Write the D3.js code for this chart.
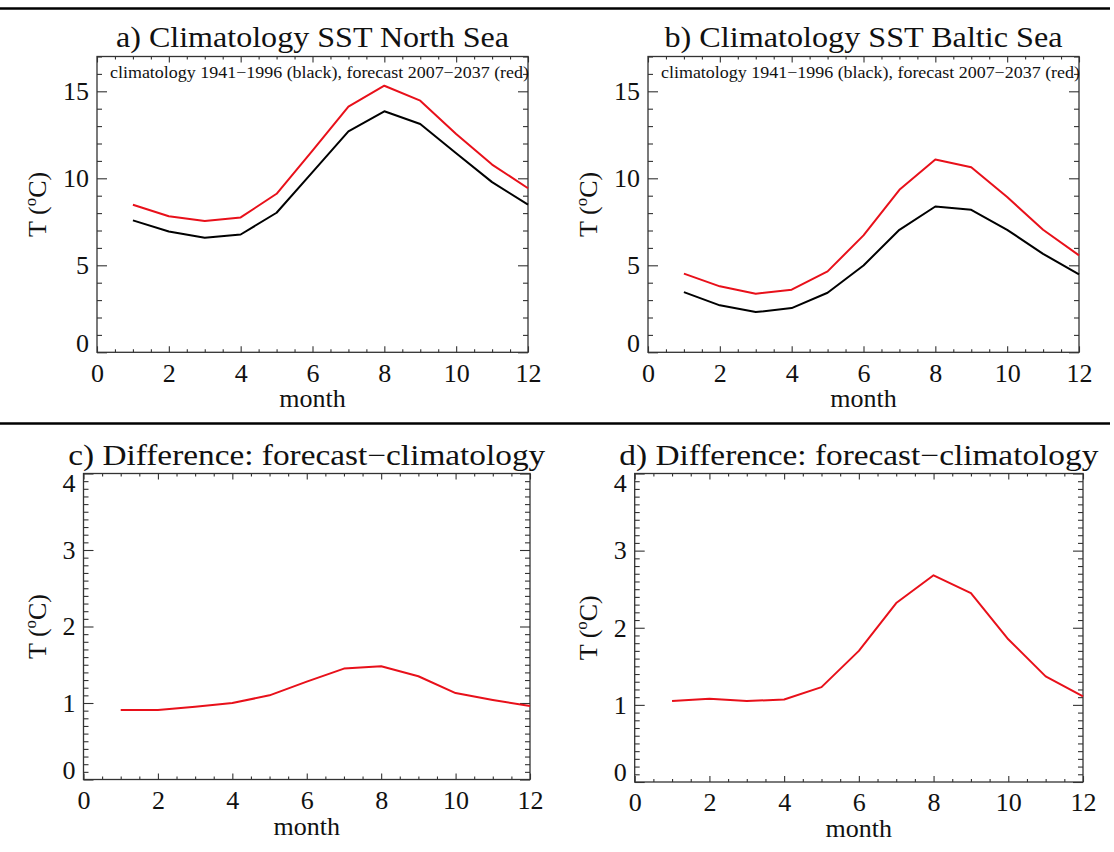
<!DOCTYPE html>
<html>

<head>
  <meta charset="utf-8">
  <title>Climatology SST North Sea / Baltic Sea</title>
  <script src="https://d3js.org/d3.v7.min.js"></script>
  <style>
    body {
      margin: 0;
      background: #fff;
    }

    text {
      font-family: 'Liberation Serif', 'Times New Roman', serif;
      fill: #111;
    }
  </style>
</head>

<body>
  <div id="chart"></div>
  <script>
    // monthly values
    const months = [1, 2, 3, 4, 5, 6, 7, 8, 9, 10, 11, 12];
    const northClim = [7.58, 6.94, 6.58, 6.77, 8.02, 10.35, 12.70, 13.85, 13.12, 11.44, 9.78, 8.49];
    const northFcst = [8.48, 7.82, 7.54, 7.75, 9.11, 11.59, 14.12, 15.32, 14.46, 12.55, 10.79, 9.43];
    const balticClim = [3.46, 2.70, 2.31, 2.54, 3.42, 4.99, 7.04, 8.38, 8.19, 7.04, 5.66, 4.48];
    const balticFcst = [4.52, 3.79, 3.37, 3.60, 4.65, 6.72, 9.34, 11.08, 10.64, 8.92, 7.04, 5.57];
    const northDiff = [0.91, 0.91, 0.95, 1.00, 1.10, 1.28, 1.45, 1.48, 1.35, 1.13, 1.04, 0.96];
    const balticDiff = [1.05, 1.08, 1.05, 1.07, 1.23, 1.70, 2.32, 2.68, 2.45, 1.85, 1.37, 1.11];

    const xTicks = [0, 2, 4, 6, 8, 10, 12];
    const tempTicks = [0, 5, 10, 15];
    const diffTicks = [0, 1, 2, 3, 4];
    const legendText = "climatology 1941\u22121996 (black), forecast 2007\u22122037 (red)";

    const W = 1114, H = 852;
    const RED = "#e8101a";

    const svg = d3.select("#chart")
      .append("svg")
      .attr("width", W)
      .attr("height", H);

    // horizontal separators
    [8.5, 423.5].forEach(function (yy) {
      svg.append("line")
        .attr("x1", 0).attr("x2", 1110)
        .attr("y1", yy).attr("y2", yy)
        .attr("stroke", "#000")
        .attr("stroke-width", 2.5);
    });

    const panels = [
      {
        title: "a) Climatology SST North Sea", left: 97, right: 528, top: 56.5, bottom: 352.3,
        yMax: 17, yTicks: tempTicks, yMinor: 1, titleY: 47, titleW: 393, ylabOff: 51,
        series: [[northClim, "#000"], [northFcst, RED]], legend: true
      },
      {
        title: "b) Climatology SST Baltic Sea", left: 648, right: 1079, top: 56.5, bottom: 352.3,
        yMax: 17, yTicks: tempTicks, yMinor: 1, titleY: 47, titleW: 398, ylabOff: 51,
        series: [[balticClim, "#000"], [balticFcst, RED]], legend: true
      },
      {
        title: "c) Difference: forecast\u2212climatology", left: 83.5, right: 530, top: 473.5, bottom: 779.5,
        yMax: 4, yTicks: diffTicks, yMinor: 0.1, titleY: 465, titleW: 477, ylabOff: 38,
        series: [[northDiff, RED]], legend: false
      },
      {
        title: "d) Difference: forecast\u2212climatology", left: 634.7, right: 1083, top: 473.5, bottom: 782,
        yMax: 4, yTicks: diffTicks, yMinor: 0.1, titleY: 465, titleW: 479, ylabOff: 38,
        series: [[balticDiff, RED]], legend: false
      }
    ];

    panels.forEach(drawPanel);

    function drawPanel(p) {
      const x = d3.scaleLinear().domain([0, 12]).range([p.left, p.right]);
      const y = d3.scaleLinear().domain([0, p.yMax]).range([p.bottom, p.top]);

      const xMinor = d3.range(0, 12.001, 0.5).filter(v => xTicks.indexOf(v) < 0);
      const yMinor = d3.range(0, p.yMax + 0.001, p.yMinor)
        .map(v => Math.round(v * 10) / 10)
        .filter(v => p.yTicks.indexOf(v) < 0);

      const g = svg.append("g");

      function styleAxis(sel) {
        sel.select(".domain").remove();
        sel.selectAll("line").attr("stroke", "#333").attr("stroke-width", 1.1);
        sel.attr("font-family", null).attr("font-size", null);
      }

      // minor ticks, all four sides
      g.append("g").attr("transform", `translate(0,${p.bottom})`)
        .call(d3.axisBottom(x).tickValues(xMinor).tickFormat("").tickSizeInner(-3).tickSizeOuter(0)).call(styleAxis);
      g.append("g").attr("transform", `translate(0,${p.top})`)
        .call(d3.axisTop(x).tickValues(xMinor).tickFormat("").tickSizeInner(-3).tickSizeOuter(0)).call(styleAxis);
      g.append("g").attr("transform", `translate(${p.left},0)`)
        .call(d3.axisLeft(y).tickValues(yMinor).tickFormat("").tickSizeInner(-5).tickSizeOuter(0)).call(styleAxis);
      g.append("g").attr("transform", `translate(${p.right},0)`)
        .call(d3.axisRight(y).tickValues(yMinor).tickFormat("").tickSizeInner(-5).tickSizeOuter(0)).call(styleAxis);

      // major ticks
      const xb = g.append("g").attr("transform", `translate(0,${p.bottom})`)
        .call(d3.axisBottom(x).tickValues(xTicks).tickFormat(d3.format("d"))
          .tickSizeInner(-6).tickSizeOuter(0).tickPadding(11))
        .call(styleAxis);
      xb.selectAll(".tick text").attr("font-size", 26).attr("fill", "#111");

      g.append("g").attr("transform", `translate(0,${p.top})`)
        .call(d3.axisTop(x).tickValues(xTicks).tickFormat("").tickSizeInner(-6).tickSizeOuter(0)).call(styleAxis);

      const yl = g.append("g").attr("transform", `translate(${p.left},0)`)
        .call(d3.axisLeft(y).tickValues(p.yTicks).tickFormat(d3.format("d"))
          .tickSizeInner(-10).tickSizeOuter(0).tickPadding(8))
        .call(styleAxis);
      yl.selectAll(".tick text")
        .attr("font-size", 26).attr("fill", "#111")
        .attr("y", function (d) {
          const yy = y(d);
          const c = Math.max(p.top + 9.5, Math.min(p.bottom - 9.5, yy));
          return c - yy;
        });

      g.append("g").attr("transform", `translate(${p.right},0)`)
        .call(d3.axisRight(y).tickValues(p.yTicks).tickFormat("").tickSizeInner(-10).tickSizeOuter(0)).call(styleAxis);

      // frame
      g.append("rect")
        .attr("x", p.left).attr("y", p.top)
        .attr("width", p.right - p.left).attr("height", p.bottom - p.top)
        .attr("fill", "none").attr("stroke", "#333").attr("stroke-width", 1.3);

      // data lines
      const line = d3.line()
        .x((d, i) => x(months[i]))
        .y(d => y(d));

      p.series.forEach(function (s) {
        g.append("path")
          .datum(s[0])
          .attr("d", line)
          .attr("fill", "none")
          .attr("stroke", s[1])
          .attr("stroke-width", 2)
          .attr("stroke-linejoin", "round");
      });

      // title
      g.append("text")
        .attr("x", (p.left + p.right) / 2)
        .attr("y", p.titleY)
        .attr("text-anchor", "middle")
        .attr("font-size", 29)
        .attr("textLength", p.titleW)
        .attr("lengthAdjust", "spacingAndGlyphs")
        .text(p.title);

      if (p.legend) {
        g.append("text")
          .attr("x", p.left + 13)
          .attr("y", p.top + 21)
          .attr("font-size", 16)
          .attr("textLength", p.right - p.left - 12)
          .attr("lengthAdjust", "spacingAndGlyphs")
          .text(legendText);
      }

      // axis titles
      g.append("text")
        .attr("x", (p.left + p.right) / 2)
        .attr("y", p.bottom + 55)
        .attr("text-anchor", "middle")
        .attr("font-size", 26)
        .text("month");

      const yt = g.append("text")
        .attr("transform", `translate(${p.left - p.ylabOff},${(p.top + p.bottom) / 2}) rotate(-90)`)
        .attr("text-anchor", "middle")
        .attr("font-size", 26);
      yt.append("tspan").text("T (");
      yt.append("tspan").attr("font-size", 17).attr("dy", -10).text("o");
      yt.append("tspan").attr("dy", 10).text("C)");
    }
  </script>
</body>

</html>
